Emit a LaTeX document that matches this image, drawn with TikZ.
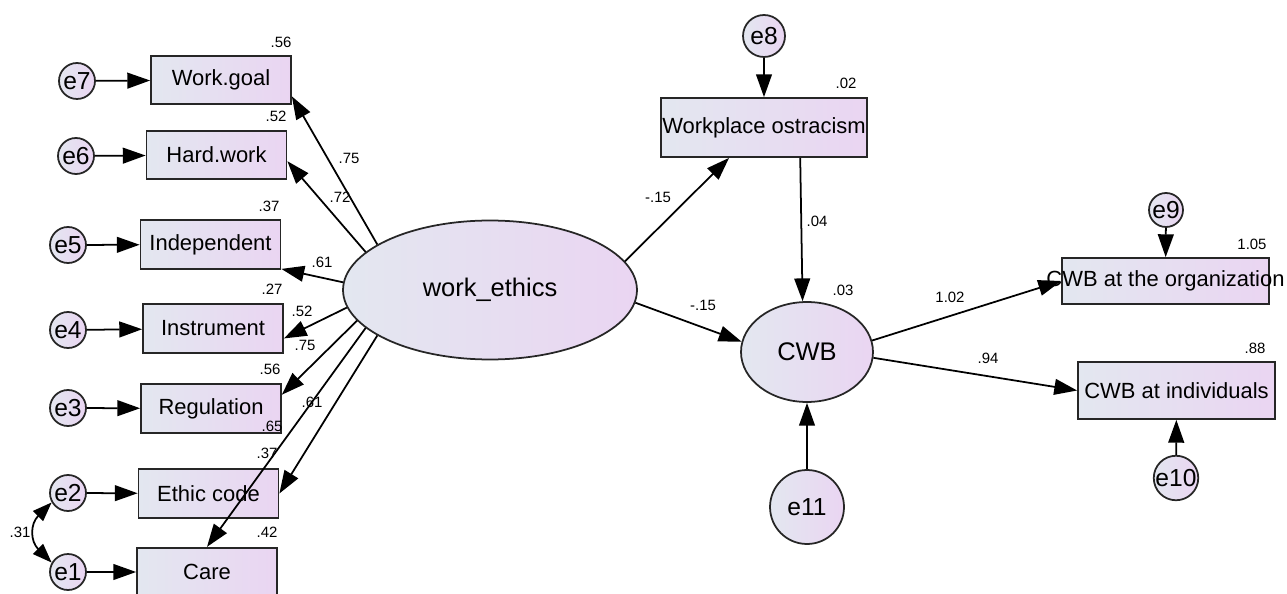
\documentclass[tikz,border=0pt]{standalone}
\usepackage{fontspec}
\setmainfont{Liberation Sans}
\usepackage{tikz}
\usetikzlibrary{arrows.meta}
\usetikzlibrary{shapes.geometric}

\definecolor{fillleft}{RGB}{227,231,240}
\definecolor{fillright}{RGB}{234,213,242}

\begin{document}
\begin{tikzpicture}[x=0.02cm, y=-0.02cm,
    base/.style={draw=black!85, line width=1pt, left color=fillleft, right color=fillright, inner sep=0pt},
    obs/.style={base, rectangle, minimum width=2.8cm, minimum height=0.97cm, font=\fontsize{12.5}{14}\selectfont},
    err/.style={base, circle, minimum size=0.72cm, font=\fontsize{14}{16}\selectfont},
    lat/.style={base, ellipse, font=\fontsize{14.5}{17}\selectfont},
    causal/.style={line width=1pt, -{Triangle[length=13pt, width=9pt]}},
    cov/.style={line width=1pt, {Triangle[length=11pt, width=8pt]}-{Triangle[length=11pt, width=8pt]}},
    est/.style={font=\fontsize{8.5}{10}\selectfont, inner sep=0pt}]
    \useasboundingbox (0, 0) rectangle (1287, 594); % page size
    % indicators of work_ethics
    \node[obs] (workgoal) at (221, 80) {Work.goal};
    \node[obs] (hardwork) at (216.5, 155) {Hard.work};
    \node[obs] (indep) at (210.5, 244.5) {Independent};
    \node[obs] (instr) at (213, 328.5) {Instrument};
    \node[obs] (regul) at (211, 408.5) {Regulation};
    \node[obs] (ethic) at (208.5, 493.5) {Ethic code};
    \node[obs] (care) at (207, 572) {Care};
    \node[err] (e7) at (77, 81) {e7};
    \node[err] (e6) at (76, 156) {e6};
    \node[err] (e5) at (68, 245) {e5};
    \node[err] (e4) at (68, 330) {e4};
    \node[err] (e3) at (68, 408) {e3};
    \node[err] (e2) at (68, 493) {e2};
    \node[err] (e1) at (68, 572) {e1};
    % latent variables and outcomes
    \node[lat, minimum width=5.88cm, minimum height=2.78cm] (ethics) at (490, 290) {work\_ethics};
    \node[lat, minimum width=2.64cm, minimum height=2cm] (cwb) at (807, 352) {CWB};
    \node[obs, minimum width=4.12cm, minimum height=1.18cm] (ostra) at (764, 127.5) {\makebox[0pt]{Workplace ostracism}};
    \node[obs, minimum width=4.14cm, minimum height=0.92cm] (cwborg) at (1165.5, 281) {\makebox[0pt]{CWB at the organization}};
    \node[obs, minimum width=3.94cm, minimum height=1.14cm] (cwbind) at (1176.5, 390.5) {CWB at individuals};
    \node[err, minimum size=0.84cm] (e8) at (764, 36) {e8};
    \node[err, minimum size=0.68cm] (e9) at (1166, 210) {e9};
    \node[err, minimum size=0.84cm] (e10) at (1176, 478) {e10};
    \node[err, minimum size=1.48cm] (e11) at (807, 507) {e11};

    \draw[causal] (e7) -- (workgoal);
    \draw[causal] (e6) -- (hardwork);
    \draw[causal] (e5) -- (indep);
    \draw[causal] (e4) -- (instr);
    \draw[causal] (e3) -- (regul);
    \draw[causal] (e2) -- (ethic);
    \draw[causal] (e1) -- (care);
    \draw[cov] (e1.150) to[out=135, in=225, looseness=1.3] (e2.210);
    \draw[causal] (ethics.158.5) -- (workgoal.-13);
    \draw[causal] (ethics.163.5) -- (hardwork.-5);
    \draw[causal] (ethics.177) -- (indep.-19);
    \draw[causal] (ethics.187) -- (instr.-8.5);
    \draw[causal] (ethics.193) -- (regul.11);
    \draw[causal] (ethics.197) -- (care.north);
    \draw[causal] (ethics.202) -- (ethic.east);
    \draw[causal] (ethics.12.7) -- (ostra.221);
    \draw[causal] (ethics.-5) -- (cwb.171);
    \draw[causal] (ostra.-40) -- (cwb.95);
    \draw[causal] (e8) -- (ostra);
    \draw[causal] (cwb.10) -- (cwborg.west);
    \draw[causal] (cwb.-5) -- (cwbind.west);
    \draw[causal] (e9) -- (cwborg);
    \draw[causal] (e10) -- (cwbind);
    \draw[causal] (e11) -- (cwb);

    % estimates
    \foreach \x/\y/\v [count=\i] in {281/42/.56, 276/116/.52, 269/206/.37, 272/289/.27,
        270/369/.56, 267/453/.37, 267/532/.42, 846/83/.02, 843/290/.03, 1252/244/1.05,
        1255/348/.88, 349/158/.75, 340/197/.72, 322/262/.61, 302/311/.52, 305/345/.75,
        312/402/.61, 272/426/.65, 658/197/-.15, 817/221/.04, 703/305/-.15, 950/297/1.02,
        988/358/.94, 20/532/.31}
        \node[est] (est\i) at (\x, \y) {\v};
\end{tikzpicture}
\end{document}
